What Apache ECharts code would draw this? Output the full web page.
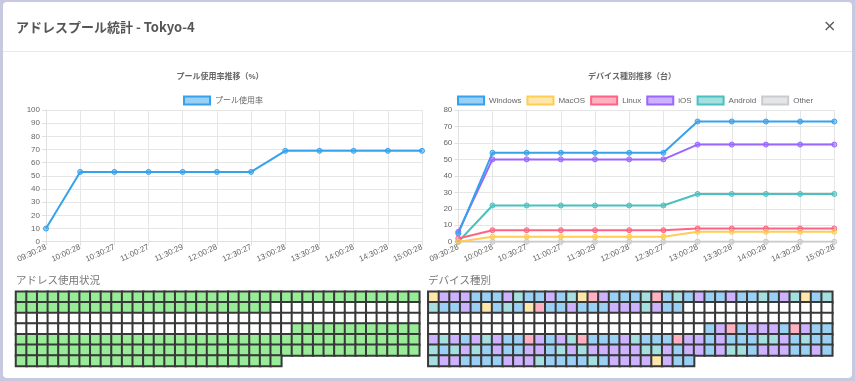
<!DOCTYPE html>
<html><head><meta charset="utf-8">
<script src="https://cdn.jsdelivr.net/npm/echarts@6/dist/echarts.min.js"></script>
<style>html,body{margin:0;padding:0;background:#c7c9e1;}#c{width:855px;height:381px;}</style>
</head><body><div id="c"></div>
<script>
// ---- data ----
const times = ['09:30:28','10:00:28','10:30:27','11:00:27','11:30:29','12:00:28','12:30:27','13:00:28','13:30:28','14:00:28','14:30:28','15:00:28'];
const poolUsage = [10,53,53,53,53,53,53,69,69,69,69,69];
const deviceNames = ['Windows','MacOS','Linux','iOS','Android','Other'];
const windowsCounts = [5,54,54,54,54,54,54,73,73,73,73,73];
const macosCounts = [0,3,3,3,3,3,3,6,6,6,6,6];
const linuxCounts = [2,7,7,7,7,7,7,8,8,8,8,8];
const iosCounts = [6,50,50,50,50,50,50,59,59,59,59,59];
const androidCounts = [0,22,22,22,22,22,22,29,29,29,29,29];
const otherCounts = [0,0,0,0,0,0,0,0,0,0,0,0];
// address grid: U = used, E = free
const usageRows = [
  'UUUUUUUUUU UUUUUUUUUU UUUUUUUUUU UUUUUUUU',
  'UUUUUUUUUU UUUUUUUUUU UUUUEEEEEE EEEEEEEE',
  'EEEEEEEEEE EEEEEEEEEE EEEEEEEEEE EEEEEEEE',
  'EEEEEEEEEE EEEEEEEEEE EEEEEEUUUU UUUUUUUU',
  'UUUUUUUUUU UUUUUUUUUU UUUUUUUUUU UUUUUUUU',
  'UUUUUUUUUU UUUUUUUUUU UUUUUUUUUU UUUUUUUU',
  'UUUUUUUUUU UUUUUUUUUU UUUUU'
];
// device grid: W Windows, M MacOS, L Linux, I iOS, A Android, E free
const deviceRows = [
  'MIIIWWWIAW WIWAMLIWWW ALWAWIWWIW WAWIAMWA',
  'AWWIWMWAWM LWWIWWWIII AIWWEEEEEE EEEEEEEE',
  'EEEEEEEEEE EEEEEEEEEE EEEEEEEEEE EEEEEEEE',
  'EEEEEEEEEE EEEEEEEEEE EEEEEEWILW IIIWLIWW',
  'IAIWIAIWWL IWIALWWWIA WWWLIIWIWW WAAIWAWW',
  'AWAIAWIWWI IWAIAIIIII AAIWIIWIAA WIIIWWIW',
  'AIIWWWWIII AWWWWAWIII IMIWW'
];

// ---- styles ----
const lineColors = ['#36A2EB','#FFCD56','#FF6384','#9966FF','#4BC0C0','#C9CBCF'];
const fillColors = ['rgba(54,162,235,0.5)','rgba(255,205,86,0.5)','rgba(255,99,132,0.5)','rgba(153,102,255,0.5)','rgba(75,192,192,0.5)','rgba(201,203,207,0.5)'];
const cellFill = ['#ffffff','#9BD0F5','#FFE6AA','#FFB1C1','#CCB2FF','#A5DFDF','#E4E5E7'];
const FONT = "'Liberation Sans','Noto Sans CJK JP',sans-serif";
const deviceSeriesData = [windowsCounts, macosCounts, linuxCounts, iosCounts, androidCounts, otherCounts];

function cells(rows, code) {
  const out = [];
  rows.forEach((r, y) => {
    const s = r.replace(/ /g, '');
    for (let x = 0; x < s.length; x++) out.push([x, y, code[s[x]]]);
  });
  return out;
}
const usageCells = cells(usageRows, {E:0, U:1});
const deviceCells = cells(deviceRows, {E:0, W:1, M:2, L:3, I:4, A:5, O:6});
const colIdx = []; for (let i = 0; i < 38; i++) colIdx.push(i);
const rowIdx = [0,1,2,3,4,5,6];

function xCat(gi) {
  return {type:'category', gridIndex:gi, data:times, boundaryGap:false,
    axisLine:{show:true, lineStyle:{color:'#e0e0e0'}},
    axisTick:{show:true, length:4, alignWithLabel:true, lineStyle:{color:'#e0e0e0'}},
    splitLine:{show:true, lineStyle:{color:'#e6e6e6'}},
    axisLabel:{rotate:25, fontSize:8, color:'#666', margin:5, interval:0, fontFamily:FONT}};
}
function yVal(gi, max) {
  return {type:'value', gridIndex:gi, min:0, max:max, interval:10,
    axisLine:{show:true, lineStyle:{color:'#e0e0e0'}},
    axisTick:{show:true, length:4, lineStyle:{color:'#e0e0e0'}},
    splitLine:{show:true, lineStyle:{color:'#e6e6e6'}},
    axisLabel:{fontSize:8, color:'#666', margin:6, fontFamily:FONT}};
}
function lineSeries(name, data, i, gi) {
  return {type:'line', name:name, data:data, xAxisIndex:gi, yAxisIndex:gi,
    symbol:'circle', symbolSize:5, showSymbol:true,
    lineStyle:{width:2, color:lineColors[i]},
    itemStyle:{color:fillColors[i], borderColor:lineColors[i], borderWidth:1},
    emphasis:{disabled:true}};
}

const chart = echarts.init(document.getElementById('c'), null, {renderer:'canvas'});
const series = [lineSeries('プール使用率', poolUsage, 0, 0)];
for (let i = deviceNames.length - 1; i >= 0; i--) series.push(lineSeries(deviceNames[i], deviceSeriesData[i], i, 1));
series.push({type:'heatmap', name:'usage', xAxisIndex:2, yAxisIndex:2, data:usageCells,
  itemStyle:{borderColor:'#383838', borderWidth:2}, emphasis:{disabled:true}});
series.push({type:'heatmap', name:'devices', xAxisIndex:3, yAxisIndex:3, data:deviceCells,
  itemStyle:{borderColor:'#383838', borderWidth:2}, emphasis:{disabled:true}});
const usageHeat = series.length - 2, deviceHeat = series.length - 1;

chart.setOption({
  animation:false,
  backgroundColor:'#c7c9e1',
  textStyle:{fontFamily:FONT},
  graphic:[
    {type:'rect', z:-10, shape:{x:3, y:2, width:849, height:376, r:4}, style:{fill:'#ffffff'}},
    {type:'line', z:-9, shape:{x1:3, y1:51.5, x2:852, y2:51.5}, style:{stroke:'#e9e9ec', lineWidth:1}}
  ],
  title:[
    {text:'アドレスプール統計 - Tokyo-4', left:16, top:20.5, padding:0, textStyle:{fontSize:13, fontWeight:'bold', color:'#555', fontFamily:"'Noto Sans CJK JP',sans-serif"}},
    {text:'×', left:823, top:19, padding:0, textStyle:{fontSize:16, fontWeight:'normal', color:'#5a5a5a', fontFamily:"'DejaVu Sans',sans-serif"}},
    {text:'プール使用率推移（%）', left:220, top:73, padding:0, textAlign:'center', textStyle:{fontSize:8, fontWeight:'bold', color:'#666', fontFamily:FONT}},
    {text:'デバイス種別推移（台）', left:632, top:73, padding:0, textAlign:'center', textStyle:{fontSize:8, fontWeight:'bold', color:'#666', fontFamily:FONT}},
    {text:'アドレス使用状況', left:16, top:274.5, padding:0, textStyle:{fontSize:10.5, fontWeight:'normal', color:'#777', fontFamily:"'Noto Sans CJK JP',sans-serif"}},
    {text:'デバイス種別', left:428, top:274.5, padding:0, textStyle:{fontSize:10.5, fontWeight:'normal', color:'#777', fontFamily:"'Noto Sans CJK JP',sans-serif"}}
  ],
  legend:[
    {left:183, top:95.5, padding:0, icon:'rect', itemWidth:26, itemHeight:8, itemGap:5, selectedMode:false,
      textStyle:{fontSize:8, color:'#666', fontFamily:FONT},
      data:[{name:'プール使用率', itemStyle:{color:fillColors[0], borderColor:lineColors[0], borderWidth:2}}]},
    {left:457, top:95.5, padding:0, icon:'rect', itemWidth:26, itemHeight:8, itemGap:5, selectedMode:false,
      textStyle:{fontSize:8, color:'#666', fontFamily:FONT},
      data:deviceNames.map((n, i) => ({name:n, itemStyle:{color:fillColors[i], borderColor:lineColors[i], borderWidth:2}}))}
  ],
  grid:[
    {left:46, top:110, width:376, height:131.7},
    {left:458.3, top:110, width:376, height:131.7},
    {left:16, top:291.7, width:403.3, height:74.3},
    {left:428.3, top:291.7, width:404, height:74.3}
  ],
  xAxis:[xCat(0), xCat(1),
    {type:'category', gridIndex:2, data:colIdx, show:false},
    {type:'category', gridIndex:3, data:colIdx, show:false}],
  yAxis:[yVal(0, 100), yVal(1, 80),
    {type:'category', gridIndex:2, data:rowIdx, inverse:true, show:false},
    {type:'category', gridIndex:3, data:rowIdx, inverse:true, show:false}],
  visualMap:[
    {type:'piecewise', show:false, seriesIndex:usageHeat, dimension:2,
      pieces:[{value:0, color:'#ffffff'}, {value:1, color:'#98EC98'}]},
    {type:'piecewise', show:false, seriesIndex:deviceHeat, dimension:2,
      pieces:cellFill.map((c, i) => ({value:i, color:c}))}
  ],
  series:series
});
</script></body></html>
